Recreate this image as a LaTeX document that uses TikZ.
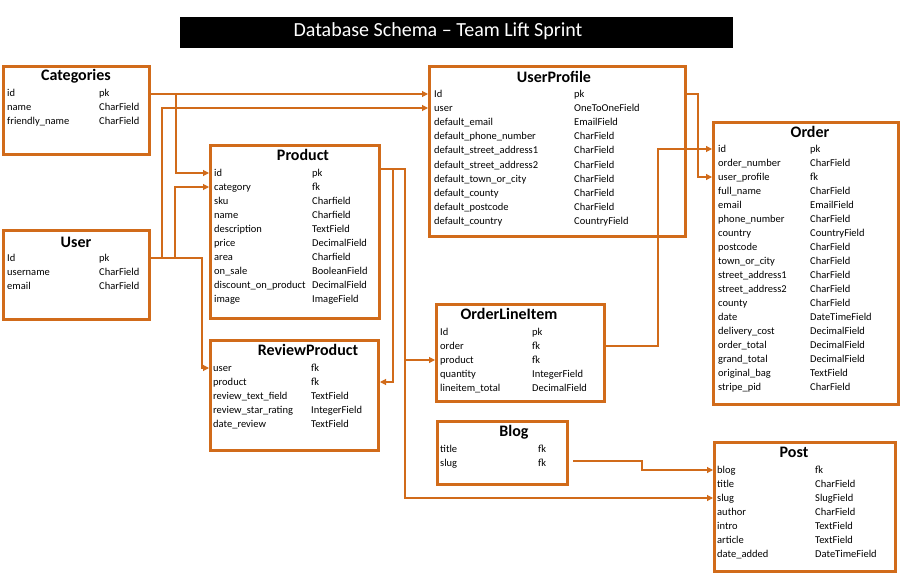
\documentclass[tikz,border=0pt]{standalone}
\usepackage{fontspec}
\setmainfont{Carlito}
\usetikzlibrary{arrows.meta}
\definecolor{org}{RGB}{209,107,26}
\tikzset{
  tbl/.style={draw=org, line width=3pt, anchor=north west, inner sep=0pt},
  ttl/.style={font=\bfseries\fontsize{16}{18}\selectfont, inner sep=0pt},
  fld/.style={font=\fontsize{10.5}{12}\selectfont, inner sep=0pt, anchor=base west},
  arr/.style={draw=org, line width=1.1pt, -{Triangle[length=6pt,width=6pt]}},
}
\newcommand\frow[6]{%
  \coordinate (#1c) at (#2,#4);
  \node[fld] (#1) at (#2,{#4+3.5}) {#5};
  \node[fld] (#1-t) at (#3,{#4+3.5}) {#6};}
\begin{document}
\begin{tikzpicture}[x=1pt,y=-1pt]
\fill[white] (0,0) rectangle (909,588);
\useasboundingbox (0,0) rectangle (909,588);

% title bar
\node[fill=black, anchor=north west, minimum width=553, minimum height=31, inner sep=0pt] (titlebar) at (180,17) {};
\node[text=white, font=\fontsize{20}{23}\selectfont, inner sep=0pt] (title) at (438,31.5) {Database Schema – Team Lift Sprint};

% Categories
\node[tbl, minimum width=146, minimum height=88] (cat) at (2,65) {};
\node[ttl] (cat-title) at (76,76) {Categories};
\frow{catid}{7}{99}{93}{id}{pk}
\frow{catname}{7}{99}{107}{name}{CharField}
\frow{catfn}{7}{99}{121}{friendly\_name}{CharField}

% User
\node[tbl, minimum width=146, minimum height=89] (user) at (2,229) {};
\node[ttl] (user-title) at (76,242) {User};
\frow{userid}{7}{99}{258}{Id}{pk}
\frow{useruname}{7}{99}{272}{username}{CharField}
\frow{useremail}{7}{99}{286}{email}{CharField}

% Product
\node[tbl, minimum width=169, minimum height=173] (prod) at (209,144) {};
\node[ttl] (prod-title) at (303,155) {Product};
\frow{prodid}{214}{312}{173}{id}{pk}
\frow{prodcat}{214}{312}{187}{category}{fk}
\frow{prodsku}{214}{312}{201}{sku}{Charfield}
\frow{prodname}{214}{312}{215}{name}{Charfield}
\frow{proddesc}{214}{312}{229}{description}{TextField}
\frow{prodprice}{214}{312}{243}{price}{DecimalField}
\frow{prodarea}{214}{312}{257}{area}{Charfield}
\frow{prodsale}{214}{312}{271}{on\_sale}{BooleanField}
\frow{proddisc}{214}{312}{285}{discount\_on\_product}{DecimalField}
\frow{prodimg}{214}{312}{299}{image}{ImageField}

% ReviewProduct
\node[tbl, minimum width=168, minimum height=110] (rev) at (209,339) {};
\node[ttl] (rev-title) at (308,350) {ReviewProduct};
\frow{revuser}{213}{311}{368}{user}{fk}
\frow{revprod}{213}{311}{382}{product}{fk}
\frow{revtext}{213}{311}{396}{review\_text\_field}{TextField}
\frow{revstar}{213}{311}{410}{review\_star\_rating}{IntegerField}
\frow{revdate}{213}{311}{424}{date\_review}{TextField}

% UserProfile
\node[tbl, minimum width=256, minimum height=170] (up) at (428,65) {};
\node[ttl] (up-title) at (554,77) {UserProfile};
\frow{upid}{434}{574}{94}{Id}{pk}
\frow{upuser}{434}{574}{108}{user}{OneToOneField}
\frow{upemail}{434}{574}{122}{default\_email}{EmailField}
\frow{upphone}{434}{574}{136.2}{default\_phone\_number}{CharField}
\frow{upsa1}{434}{574}{150.4}{default\_street\_address1}{CharField}
\frow{upsa2}{434}{574}{164.6}{default\_street\_address2}{CharField}
\frow{uptown}{434}{574}{178.8}{default\_town\_or\_city}{CharField}
\frow{upcounty}{434}{574}{193}{default\_county}{CharField}
\frow{uppost}{434}{574}{207.2}{default\_postcode}{CharField}
\frow{upcountry}{434}{574}{221.4}{default\_country}{CountryField}

% Order
\node[tbl, minimum width=185, minimum height=282] (ord) at (712,121) {};
\node[ttl] (ord-title) at (810,132) {Order};
\frow{ordid}{718}{810}{149}{id}{pk}
\frow{ordnum}{718}{810}{163}{order\_number}{CharField}
\frow{ordup}{718}{810}{177}{user\_profile}{fk}
\frow{ordfull}{718}{810}{191}{full\_name}{CharField}
\frow{ordemail}{718}{810}{205}{email}{EmailField}
\frow{ordphone}{718}{810}{219}{phone\_number}{CharField}
\frow{ordcountry}{718}{810}{233}{country}{CountryField}
\frow{ordpost}{718}{810}{247}{postcode}{CharField}
\frow{ordtown}{718}{810}{261}{town\_or\_city}{CharField}
\frow{ordsa1}{718}{810}{275}{street\_address1}{CharField}
\frow{ordsa2}{718}{810}{289}{street\_address2}{CharField}
\frow{ordcounty}{718}{810}{303}{county}{CharField}
\frow{orddate}{718}{810}{317}{date}{DateTimeField}
\frow{orddel}{718}{810}{331}{delivery\_cost}{DecimalField}
\frow{ordtot}{718}{810}{345}{order\_total}{DecimalField}
\frow{ordgrand}{718}{810}{359}{grand\_total}{DecimalField}
\frow{ordbag}{718}{810}{373}{original\_bag}{TextField}
\frow{ordpid}{718}{810}{387}{stripe\_pid}{CharField}

% OrderLineItem
\node[tbl, minimum width=168, minimum height=97] (oli) at (435,303) {};
\node[ttl] (oli-title) at (509,314) {OrderLineItem};
\frow{oliid}{440}{532}{332}{Id}{pk}
\frow{oliorder}{440}{532}{346}{order}{fk}
\frow{oliprod}{440}{532}{360}{product}{fk}
\frow{oliqty}{440}{532}{374}{quantity}{IntegerField}
\frow{olitot}{440}{532}{388}{lineitem\_total}{DecimalField}

% Blog
\node[tbl, minimum width=130, minimum height=63] (blog) at (436,420) {};
\node[ttl] (blog-title) at (514,432) {Blog};
\frow{blogtitle}{440}{538}{449}{title}{fk}
\frow{blogslug}{440}{538}{463}{slug}{fk}

% Post
\node[tbl, minimum width=181, minimum height=129] (post) at (713,441) {};
\node[ttl] (post-title) at (794,452) {Post};
\frow{postblog}{717}{815}{470}{blog}{fk}
\frow{posttitle}{717}{815}{484}{title}{CharField}
\frow{postslug}{717}{815}{498}{slug}{SlugField}
\frow{postauthor}{717}{815}{512}{author}{CharField}
\frow{postintro}{717}{815}{526}{intro}{TextField}
\frow{postart}{717}{815}{540}{article}{TextField}
\frow{postdate}{717}{815}{554}{date\_added}{DateTimeField}

% junction coordinates
\coordinate (j1) at (176,0);
\coordinate (j2) at (162,0);
\coordinate (j3) at (175,0);
\coordinate (j4) at (202,0);
\coordinate (pj) at (0,169);
\coordinate (j5) at (405,0);
\coordinate (j6) at (393,0);
\coordinate (j7) at (698,0);
\coordinate (j8) at (658,0);
\coordinate (bs) at (573,461);
\coordinate (j9) at (642,0);

% connectors
\draw[arr] (cat.east |- upidc) -- (up.west |- upidc);
\draw[arr] (j1 |- upidc) |- (prod.west |- prodidc);
\draw[arr] (user.east |- useridc) -| (j4 |- revuserc) -- (rev.west |- revuserc);
\draw[arr] (j2 |- useridc) |- (up.west |- upuserc);
\draw[arr] (j3 |- useridc) |- (prod.west |- prodcatc);
\draw[arr] (prod.east |- pj) -| (j5 |- postslugc) -- (post.west |- postslugc);
\draw[arr] (j5 |- oliprodc) -- (oli.west |- oliprodc);
\draw[arr] (j6 |- pj) |- (rev.east |- revprodc);
\draw[arr] (up.east |- upidc) -| (j7 |- ordupc) -- (ord.west |- ordupc);
\draw[arr] (oli.east |- oliorderc) -| (j8 |- ordidc) -- (ord.west |- ordidc);
\draw[arr] (bs) -| (j9 |- postblogc) -- (post.west |- postblogc);
\end{tikzpicture}
\end{document}
